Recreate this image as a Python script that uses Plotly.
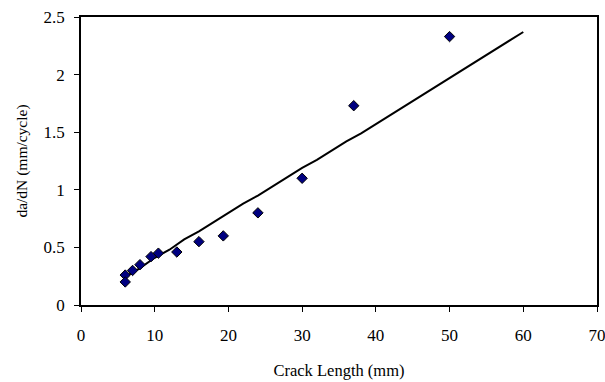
import plotly.graph_objects as go

# Measured data (diamonds)
crack_mm = [6, 6, 7, 8, 9.5, 10.5, 13, 16, 19.3, 24, 30, 37, 50]
dadn = [0.26, 0.20, 0.30, 0.35, 0.42, 0.45, 0.46, 0.55, 0.60, 0.80, 1.10, 1.73, 2.33]

# Predicted curve
fit_x = [6, 8, 10, 12, 14, 16, 18, 20, 22, 24, 26, 28, 30, 32, 34, 36, 38, 40,
         42, 44, 46, 48, 50, 52, 54, 56, 58, 60]
fit_y = [0.245, 0.32, 0.41, 0.48, 0.57, 0.64, 0.72, 0.80, 0.88, 0.95, 1.03, 1.11,
         1.19, 1.26, 1.34, 1.42, 1.49, 1.57, 1.65, 1.73, 1.81, 1.89, 1.97, 2.05,
         2.13, 2.21, 2.29, 2.37]

x_ticks = [0, 10, 20, 30, 40, 50, 60, 70]
y_ticks = [0, 0.5, 1, 1.5, 2, 2.5]
y_tick_text = ["0", "0.5", "1", "1.5", "2", "2.5"]

fam = "Liberation Serif, Times New Roman, serif"
tick_font = dict(family=fam, size=17, color="black")

fig = go.Figure()
fig.add_trace(go.Scatter(x=fit_x, y=fit_y, mode="lines",
                         line=dict(color="black", width=2), showlegend=False))
fig.add_trace(go.Scatter(x=crack_mm, y=dadn, mode="markers",
                         marker=dict(symbol="diamond", size=8, color="#000080",
                                     line=dict(color="black", width=1)),
                         showlegend=False))

fig.update_layout(
    width=605, height=382,
    margin=dict(l=81, r=8, t=17, b=77),
    paper_bgcolor="white", plot_bgcolor="white",
    font=tick_font,
    xaxis=dict(range=[0, 70], tickvals=x_ticks, ticks="outside", ticklen=5,
               tickcolor="black", showline=True, linecolor="black", linewidth=1.5,
               mirror=True, showgrid=False, zeroline=False, automargin=False,
               ticklabeloverflow="allow",
               ticklabelstandoff=9, tickfont=tick_font,
               title=dict(text="Crack Length (mm)",
                          font=dict(family=fam, size=16.5, color="black"), standoff=20)),
    yaxis=dict(range=[0, 2.5], tickvals=y_ticks, ticktext=y_tick_text,
               ticks="outside", ticklen=5, tickcolor="black", showline=True,
               linecolor="black", linewidth=1.5, mirror=True, showgrid=False,
               zeroline=False, automargin=False, ticklabeloverflow="allow",
               ticklabelstandoff=6, tickfont=tick_font,
               title=dict(text="da/dN (mm/cycle)",
                          font=dict(family=fam, size=15.5, color="black"), standoff=12)),
)

fig.write_html("out.html")
